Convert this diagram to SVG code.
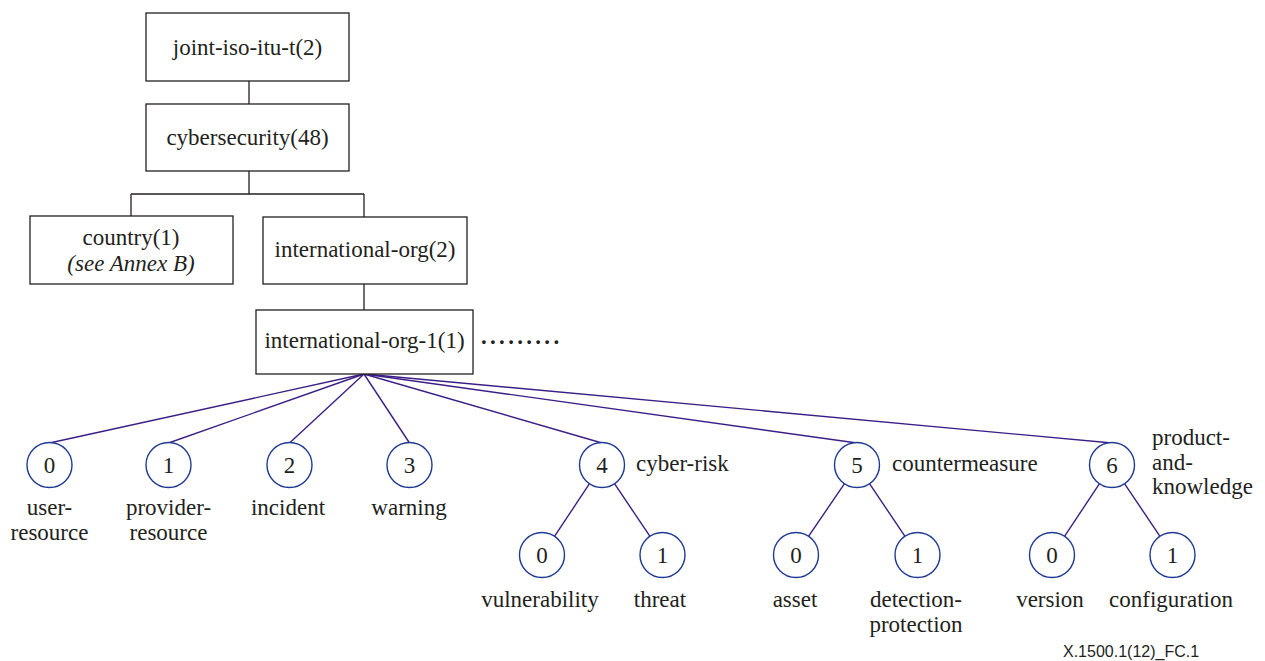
<svg xmlns="http://www.w3.org/2000/svg" width="1265" height="661" viewBox="0 0 1265 661">
<style>
.box{fill:#fff;stroke:#231f20;stroke-width:1.3}
.circ{fill:#fff;stroke:#1f3a93;stroke-width:1.4}
.t{font-family:'Liberation Serif','Times New Roman',Times,'DejaVu Serif',serif;font-size:23px;fill:#231f20}
.c{text-anchor:middle}
.tree{stroke:#231f20;stroke-width:1.3;fill:none}
.link{stroke:#3b1f86;stroke-width:1.4;fill:none}
.foot{font-family:'Liberation Sans',Arial,sans-serif;font-size:16px;fill:#231f20}
</style>
<rect width="1265" height="661" fill="#fff"/>
<g id="connectors">
<path class="tree" d="M249 81V104M249 171V194M131 194H364M131 194V216M364 194V217M364 284V310"/>
<g class="link">
<line x1="364" y1="374" x2="49.5" y2="443"/>
<line x1="364" y1="374" x2="168.5" y2="443"/>
<line x1="364" y1="374" x2="289.5" y2="443"/>
<line x1="364" y1="374" x2="409.5" y2="443"/>
<line x1="364" y1="374" x2="602" y2="443"/>
<line x1="364" y1="374" x2="857" y2="443"/>
<line x1="364" y1="374" x2="1112" y2="443"/>
<line x1="589.5" y1="483.7" x2="554.5" y2="536.3"/>
<line x1="614.5" y1="483.7" x2="650" y2="536.3"/>
<line x1="844.5" y1="483.7" x2="808.5" y2="536.3"/>
<line x1="869.5" y1="483.7" x2="905" y2="536.3"/>
<line x1="1099.5" y1="483.7" x2="1064.5" y2="536.3"/>
<line x1="1124.5" y1="483.7" x2="1160" y2="536.3"/>
</g>
</g>
<g font-family="Liberation Serif, serif" font-size="23" fill="#231f20">
<g id="n-joint">
<rect class="box" x="146" y="13" width="203" height="68"/>
<text class="t c" x="247.5" y="55">joint-iso-itu-t(2)</text>
</g>
<g id="n-cyber">
<rect class="box" x="146" y="104" width="203" height="67"/>
<text class="t c" x="247.5" y="145">cybersecurity(48)</text>
</g>
<g id="n-country">
<rect class="box" x="30" y="216" width="203" height="68"/>
<text class="t c" x="131" y="245">country(1)</text>
<text class="t c" x="131" y="271" font-style="italic">(see Annex B)</text>
</g>
<g id="n-intorg">
<rect class="box" x="263" y="217" width="204" height="67"/>
<text class="t c" x="365" y="257">international-org(2)</text>
</g>
<g id="n-intorg1">
<rect class="box" x="256" y="310" width="217" height="64"/>
<text class="t c" x="364.5" y="348">international-org-1(1)</text>
<text class="t" x="481" y="344" font-weight="bold" letter-spacing="3.3">.........</text>
</g>
<g id="n0">
<circle class="circ" cx="49.5" cy="465" r="22.5"/>
<text class="t c" x="49.5" y="473">0</text>
<text class="t c" x="49.5" y="515">user-</text>
<text class="t c" x="49.5" y="540">resource</text>
</g>
<g id="n1">
<circle class="circ" cx="168.5" cy="465" r="22.5"/>
<text class="t c" x="168.5" y="473">1</text>
<text class="t c" x="168.5" y="515">provider-</text>
<text class="t c" x="168.5" y="540">resource</text>
</g>
<g id="n2">
<circle class="circ" cx="289.5" cy="465" r="22.5"/>
<text class="t c" x="289.5" y="473">2</text>
<text class="t c" x="288" y="515">incident</text>
</g>
<g id="n3">
<circle class="circ" cx="409.5" cy="465" r="22.5"/>
<text class="t c" x="409.5" y="473">3</text>
<text class="t c" x="409" y="515">warning</text>
</g>
<g id="n4">
<circle class="circ" cx="602" cy="465" r="22.5"/>
<text class="t c" x="602" y="473">4</text>
<text class="t" x="636" y="471">cyber-risk</text>
</g>
<g id="n4-0">
<circle class="circ" cx="542" cy="555" r="22.5"/>
<text class="t c" x="542" y="563">0</text>
<text class="t c" x="540" y="607">vulnerability</text>
</g>
<g id="n4-1">
<circle class="circ" cx="662.5" cy="555" r="22.5"/>
<text class="t c" x="662.5" y="563">1</text>
<text class="t c" x="660" y="607">threat</text>
</g>
<g id="n5">
<circle class="circ" cx="857" cy="465" r="22.5"/>
<text class="t c" x="857" y="473">5</text>
<text class="t" x="892" y="471">countermeasure</text>
</g>
<g id="n5-0">
<circle class="circ" cx="796" cy="555" r="22.5"/>
<text class="t c" x="796" y="563">0</text>
<text class="t c" x="795" y="607">asset</text>
</g>
<g id="n5-1">
<circle class="circ" cx="917.5" cy="555" r="22.5"/>
<text class="t c" x="917.5" y="563">1</text>
<text class="t c" x="916" y="607">detection-</text>
<text class="t c" x="916" y="632">protection</text>
</g>
<g id="n6">
<circle class="circ" cx="1112" cy="465" r="22.5"/>
<text class="t c" x="1112" y="473">6</text>
<text class="t" x="1152" y="445">product-</text>
<text class="t" x="1152" y="469.5">and-</text>
<text class="t" x="1152" y="494">knowledge</text>
</g>
<g id="n6-0">
<circle class="circ" cx="1052" cy="555" r="22.5"/>
<text class="t c" x="1052" y="563">0</text>
<text class="t c" x="1050" y="607">version</text>
</g>
<g id="n6-1">
<circle class="circ" cx="1172.5" cy="555" r="22.5"/>
<text class="t c" x="1172.5" y="563">1</text>
<text class="t c" x="1171" y="607">configuration</text>
</g>
</g>
<text class="foot" x="1063" y="657">X.1500.1(12)_FC.1</text>
</svg>
